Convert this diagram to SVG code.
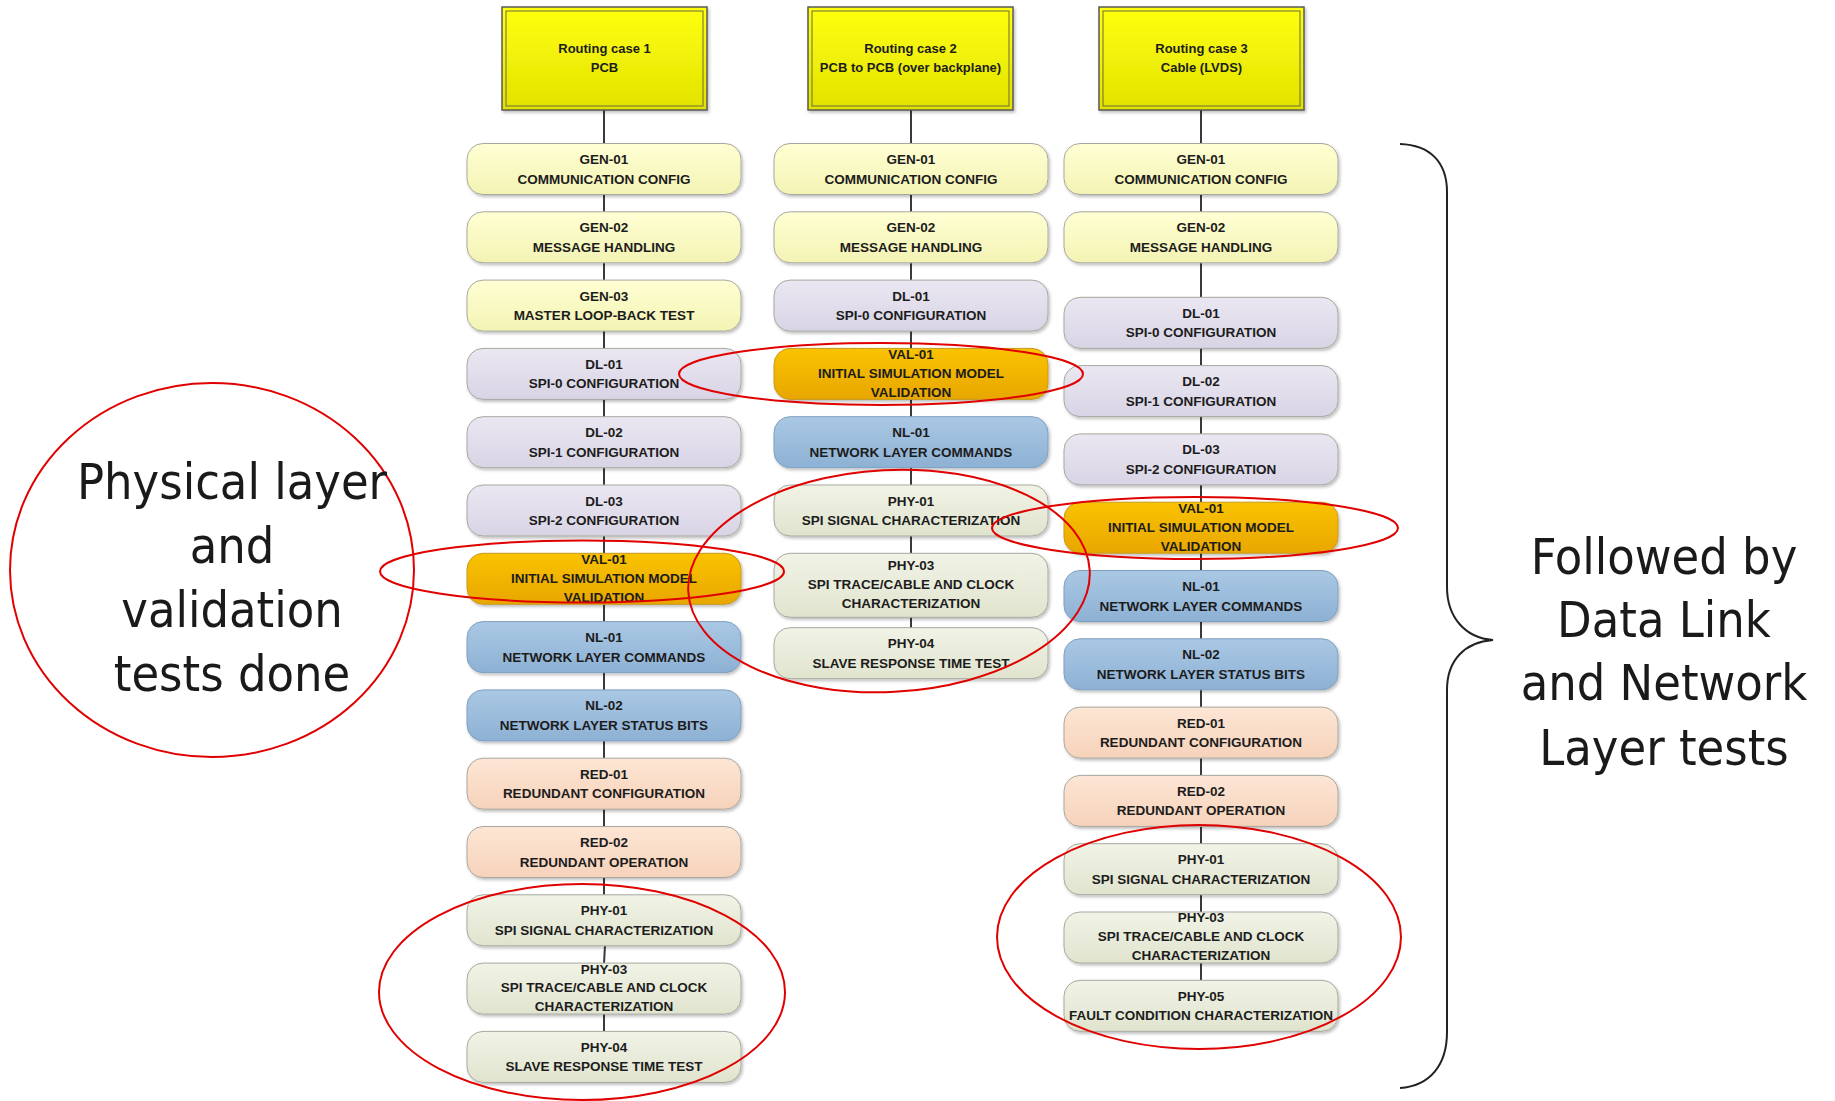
<svg xmlns="http://www.w3.org/2000/svg" width="1835" height="1101" viewBox="0 0 1835 1101">
<defs>
<linearGradient id="gGen" x1="0" y1="0" x2="0" y2="1"><stop offset="0" stop-color="#FFFFD4"/><stop offset="1" stop-color="#F3F3B4"/></linearGradient>
<linearGradient id="gDl" x1="0" y1="0" x2="0" y2="1"><stop offset="0" stop-color="#EAE7F2"/><stop offset="1" stop-color="#D9D4E5"/></linearGradient>
<linearGradient id="gVal" x1="0" y1="0" x2="0" y2="1"><stop offset="0" stop-color="#FAC300"/><stop offset="1" stop-color="#E8A600"/></linearGradient>
<linearGradient id="gNl" x1="0" y1="0" x2="0" y2="1"><stop offset="0" stop-color="#AAC8E4"/><stop offset="1" stop-color="#8DB1D4"/></linearGradient>
<linearGradient id="gRed" x1="0" y1="0" x2="0" y2="1"><stop offset="0" stop-color="#FDE6D5"/><stop offset="1" stop-color="#F6D2BA"/></linearGradient>
<linearGradient id="gPhy" x1="0" y1="0" x2="0" y2="1"><stop offset="0" stop-color="#F1F3E6"/><stop offset="1" stop-color="#E0E4CE"/></linearGradient>
<linearGradient id="gRt" x1="0" y1="0" x2="0" y2="1"><stop offset="0" stop-color="#FFFF10"/><stop offset="1" stop-color="#E2E200"/></linearGradient>
<filter id="sh" x="-5%" y="-10%" width="115%" height="130%"><feDropShadow dx="1.5" dy="2" stdDeviation="1.5" flood-color="#000" flood-opacity="0.25"/></filter>
</defs>
<style>
.n{stroke:#A8A8A0;stroke-width:1;filter:url(#sh)}
.gen{fill:url(#gGen)}.dl{fill:url(#gDl)}.val{fill:url(#gVal);stroke:#C99A20}.nl{fill:url(#gNl);stroke:#7F9FBF}.red{fill:url(#gRed)}.phy{fill:url(#gPhy)}
.t{font-family:"Liberation Sans",Arial,sans-serif;font-weight:bold;font-size:13.5px;fill:#1c1c1c;text-anchor:middle}
.rt{font-family:"Liberation Sans",Arial,sans-serif;font-weight:bold;font-size:13px;fill:#1c1c1c;text-anchor:middle}
.rbo{fill:url(#gRt);stroke:#5a5a5a;stroke-width:1.5;filter:url(#sh)}
.rbi{fill:none;stroke:#6a6a40;stroke-width:1}
.c line{stroke:#3a3a3a;stroke-width:2}
.e{fill:none;stroke:#E00000;stroke-width:2}
.big{font-family:"DejaVu Sans Condensed","DejaVu Sans",sans-serif;font-stretch:condensed;font-size:50px;fill:#1a1a1a;text-anchor:middle}
</style>
<rect width="1835" height="1101" fill="#fff"/>

<g id="connectors" class="c">
<line x1="604" y1="110" x2="604" y2="144"/><line x1="604" y1="194" x2="604" y2="212"/><line x1="604" y1="262" x2="604" y2="280"/><line x1="604" y1="331" x2="604" y2="348"/><line x1="604" y1="399" x2="604" y2="417"/><line x1="604" y1="467" x2="604" y2="485"/><line x1="604" y1="536" x2="604" y2="553"/><line x1="604" y1="604" x2="604" y2="622"/><line x1="604" y1="672" x2="604" y2="690"/><line x1="604" y1="741" x2="604" y2="758"/><line x1="604" y1="809" x2="604" y2="826"/><line x1="604" y1="877" x2="604" y2="895"/><line x1="605" y1="946" x2="604" y2="963"/><line x1="604" y1="1014" x2="604" y2="1031"/>
<line x1="911" y1="110" x2="911" y2="144"/><line x1="911" y1="194" x2="911" y2="212"/><line x1="911" y1="262" x2="911" y2="280"/><line x1="911" y1="331" x2="911" y2="348"/><line x1="911" y1="399" x2="911" y2="417"/><line x1="911" y1="467" x2="911" y2="485"/><line x1="911" y1="536" x2="911" y2="553"/><line x1="911" y1="617" x2="911" y2="628"/>
<line x1="1201" y1="110" x2="1201" y2="144"/><line x1="1201" y1="194" x2="1201" y2="212"/><line x1="1201" y1="262" x2="1201" y2="297"/><line x1="1201" y1="348" x2="1201" y2="366"/><line x1="1201" y1="416" x2="1201" y2="434"/><line x1="1201" y1="485" x2="1201" y2="502"/><line x1="1201" y1="553" x2="1201" y2="571"/><line x1="1201" y1="621" x2="1201" y2="639"/><line x1="1201" y1="689" x2="1201" y2="707"/><line x1="1201" y1="758" x2="1201" y2="775"/><line x1="1201" y1="826" x2="1201" y2="844"/><line x1="1201" y1="894" x2="1201" y2="912"/><line x1="1201" y1="963" x2="1201" y2="980"/>
</g>

<!-- Routing boxes -->
<g id="rc1"><rect class="rbo" x="502" y="7" width="205" height="103"/><rect class="rbi" x="506" y="11" width="197" height="95"/><text class="rt" x="604.5" y="53">Routing case 1</text><text class="rt" x="604.5" y="71.5">PCB</text></g>
<g id="rc2"><rect class="rbo" x="808" y="7" width="205" height="103"/><rect class="rbi" x="812" y="11" width="197" height="95"/><text class="rt" x="910.5" y="53">Routing case 2</text><text class="rt" x="910.5" y="71.5">PCB to PCB (over backplane)</text></g>
<g id="rc3"><rect class="rbo" x="1099" y="7" width="205" height="103"/><rect class="rbi" x="1103" y="11" width="197" height="95"/><text class="rt" x="1201.5" y="53">Routing case 3</text><text class="rt" x="1201.5" y="71.5">Cable (LVDS)</text></g>

<!-- Column 1 -->
<g id="c1-gen01"><rect class="n gen" x="467" y="143.5" width="274" height="51" rx="16"/><text class="t" x="604" y="164">GEN-01</text><text class="t" x="604" y="183.5">COMMUNICATION CONFIG</text></g>
<g id="c1-gen02"><rect class="n gen" x="467" y="211.8" width="274" height="51" rx="16"/><text class="t" x="604" y="232.3">GEN-02</text><text class="t" x="604" y="251.8">MESSAGE HANDLING</text></g>
<g id="c1-gen03"><rect class="n gen" x="467" y="280.1" width="274" height="51" rx="16"/><text class="t" x="604" y="300.6">GEN-03</text><text class="t" x="604" y="320.1">MASTER LOOP-BACK TEST</text></g>
<g id="c1-dl01"><rect class="n dl" x="467" y="348.4" width="274" height="51" rx="16"/><text class="t" x="604" y="368.9">DL-01</text><text class="t" x="604" y="388.4">SPI-0 CONFIGURATION</text></g>
<g id="c1-dl02"><rect class="n dl" x="467" y="416.7" width="274" height="51" rx="16"/><text class="t" x="604" y="437.2">DL-02</text><text class="t" x="604" y="456.7">SPI-1 CONFIGURATION</text></g>
<g id="c1-dl03"><rect class="n dl" x="467" y="485" width="274" height="51" rx="16"/><text class="t" x="604" y="505.5">DL-03</text><text class="t" x="604" y="525">SPI-2 CONFIGURATION</text></g>
<g id="c1-val01"><rect class="n val" x="467" y="553.3" width="274" height="51" rx="16"/><text class="t" x="604" y="563.8">VAL-01</text><text class="t" x="604" y="582.8">INITIAL SIMULATION MODEL</text><text class="t" x="604" y="601.8">VALIDATION</text></g>
<g id="c1-nl01"><rect class="n nl" x="467" y="621.6" width="274" height="51" rx="16"/><text class="t" x="604" y="642.1">NL-01</text><text class="t" x="604" y="661.6">NETWORK LAYER COMMANDS</text></g>
<g id="c1-nl02"><rect class="n nl" x="467" y="689.9" width="274" height="51" rx="16"/><text class="t" x="604" y="710.4">NL-02</text><text class="t" x="604" y="729.9">NETWORK LAYER STATUS BITS</text></g>
<g id="c1-red01"><rect class="n red" x="467" y="758.2" width="274" height="51" rx="16"/><text class="t" x="604" y="778.7">RED-01</text><text class="t" x="604" y="798.2">REDUNDANT CONFIGURATION</text></g>
<g id="c1-red02"><rect class="n red" x="467" y="826.5" width="274" height="51" rx="16"/><text class="t" x="604" y="847">RED-02</text><text class="t" x="604" y="866.5">REDUNDANT OPERATION</text></g>
<g id="c1-phy01"><rect class="n phy" x="467" y="894.8" width="274" height="51" rx="16"/><text class="t" x="604" y="915.3">PHY-01</text><text class="t" x="604" y="934.8">SPI SIGNAL CHARACTERIZATION</text></g>
<g id="c1-phy03"><rect class="n phy" x="467" y="963.1" width="274" height="51" rx="16"/><text class="t" x="604" y="973.6">PHY-03</text><text class="t" x="604" y="992.1">SPI TRACE/CABLE AND CLOCK</text><text class="t" x="604" y="1011.1">CHARACTERIZATION</text></g>
<g id="c1-phy04"><rect class="n phy" x="467" y="1031.4" width="274" height="51" rx="16"/><text class="t" x="604" y="1051.9">PHY-04</text><text class="t" x="604" y="1071.4">SLAVE RESPONSE TIME TEST</text></g>

<!-- Column 2 -->
<g id="c2-gen01"><rect class="n gen" x="774" y="143.5" width="274" height="51" rx="16"/><text class="t" x="911" y="164">GEN-01</text><text class="t" x="911" y="183.5">COMMUNICATION CONFIG</text></g>
<g id="c2-gen02"><rect class="n gen" x="774" y="211.8" width="274" height="51" rx="16"/><text class="t" x="911" y="232.3">GEN-02</text><text class="t" x="911" y="251.8">MESSAGE HANDLING</text></g>
<g id="c2-dl01"><rect class="n dl" x="774" y="280.1" width="274" height="51" rx="16"/><text class="t" x="911" y="300.6">DL-01</text><text class="t" x="911" y="320.1">SPI-0 CONFIGURATION</text></g>
<g id="c2-val01"><rect class="n val" x="774" y="348.4" width="274" height="51" rx="16"/><text class="t" x="911" y="358.9">VAL-01</text><text class="t" x="911" y="377.9">INITIAL SIMULATION MODEL</text><text class="t" x="911" y="396.9">VALIDATION</text></g>
<g id="c2-nl01"><rect class="n nl" x="774" y="416.7" width="274" height="51" rx="16"/><text class="t" x="911" y="437.2">NL-01</text><text class="t" x="911" y="456.7">NETWORK LAYER COMMANDS</text></g>
<g id="c2-phy01"><rect class="n phy" x="774" y="485" width="274" height="51" rx="16"/><text class="t" x="911" y="505.5">PHY-01</text><text class="t" x="911" y="525">SPI SIGNAL CHARACTERIZATION</text></g>
<g id="c2-phy03"><rect class="n phy" x="774" y="553.3" width="274" height="64" rx="16"/><text class="t" x="911" y="570.3">PHY-03</text><text class="t" x="911" y="589.3">SPI TRACE/CABLE AND CLOCK</text><text class="t" x="911" y="608.3">CHARACTERIZATION</text></g>
<g id="c2-phy04"><rect class="n phy" x="774" y="627.7" width="274" height="51" rx="16"/><text class="t" x="911" y="648.2">PHY-04</text><text class="t" x="911" y="667.7">SLAVE RESPONSE TIME TEST</text></g>

<!-- Column 3 -->
<g id="c3-gen01"><rect class="n gen" x="1064" y="143.5" width="274" height="51" rx="16"/><text class="t" x="1201" y="164">GEN-01</text><text class="t" x="1201" y="183.5">COMMUNICATION CONFIG</text></g>
<g id="c3-gen02"><rect class="n gen" x="1064" y="211.8" width="274" height="51" rx="16"/><text class="t" x="1201" y="232.3">GEN-02</text><text class="t" x="1201" y="251.8">MESSAGE HANDLING</text></g>
<g id="c3-dl01"><rect class="n dl" x="1064" y="297.3" width="274" height="51" rx="16"/><text class="t" x="1201" y="317.8">DL-01</text><text class="t" x="1201" y="337.3">SPI-0 CONFIGURATION</text></g>
<g id="c3-dl02"><rect class="n dl" x="1064" y="365.6" width="274" height="51" rx="16"/><text class="t" x="1201" y="386.1">DL-02</text><text class="t" x="1201" y="405.6">SPI-1 CONFIGURATION</text></g>
<g id="c3-dl03"><rect class="n dl" x="1064" y="433.9" width="274" height="51" rx="16"/><text class="t" x="1201" y="454.4">DL-03</text><text class="t" x="1201" y="473.9">SPI-2 CONFIGURATION</text></g>
<g id="c3-val01"><rect class="n val" x="1064" y="502.2" width="274" height="51" rx="16"/><text class="t" x="1201" y="512.7">VAL-01</text><text class="t" x="1201" y="531.7">INITIAL SIMULATION MODEL</text><text class="t" x="1201" y="550.7">VALIDATION</text></g>
<g id="c3-nl01"><rect class="n nl" x="1064" y="570.5" width="274" height="51" rx="16"/><text class="t" x="1201" y="591">NL-01</text><text class="t" x="1201" y="610.5">NETWORK LAYER COMMANDS</text></g>
<g id="c3-nl02"><rect class="n nl" x="1064" y="638.8" width="274" height="51" rx="16"/><text class="t" x="1201" y="659.3">NL-02</text><text class="t" x="1201" y="678.8">NETWORK LAYER STATUS BITS</text></g>
<g id="c3-red01"><rect class="n red" x="1064" y="707.1" width="274" height="51" rx="16"/><text class="t" x="1201" y="727.6">RED-01</text><text class="t" x="1201" y="747.1">REDUNDANT CONFIGURATION</text></g>
<g id="c3-red02"><rect class="n red" x="1064" y="775.4" width="274" height="51" rx="16"/><text class="t" x="1201" y="795.9">RED-02</text><text class="t" x="1201" y="815.4">REDUNDANT OPERATION</text></g>
<g id="c3-phy01"><rect class="n phy" x="1064" y="843.7" width="274" height="51" rx="16"/><text class="t" x="1201" y="864.2">PHY-01</text><text class="t" x="1201" y="883.7">SPI SIGNAL CHARACTERIZATION</text></g>
<g id="c3-phy03"><rect class="n phy" x="1064" y="912" width="274" height="51" rx="16"/><text class="t" x="1201" y="922">PHY-03</text><text class="t" x="1201" y="941">SPI TRACE/CABLE AND CLOCK</text><text class="t" x="1201" y="960">CHARACTERIZATION</text></g>
<g id="c3-phy05"><rect class="n phy" x="1064" y="980.3" width="274" height="51" rx="16"/><text class="t" x="1201" y="1000.8">PHY-05</text><text class="t" x="1201" y="1020.3">FAULT CONDITION CHARACTERIZATION</text></g>

<!-- Annotations -->
<g id="annotations">
<ellipse class="e" cx="212" cy="570" rx="202" ry="187"/>
<ellipse class="e" cx="582" cy="571.5" rx="202" ry="31"/>
<ellipse class="e" cx="881" cy="374" rx="202" ry="31"/>
<ellipse class="e" cx="1195" cy="528" rx="203" ry="31"/>
<ellipse class="e" cx="889" cy="581" rx="201" ry="111" transform="rotate(-3 889 581)"/>
<ellipse class="e" cx="582" cy="992" rx="203" ry="108"/>
<ellipse class="e" cx="1199" cy="937" rx="202" ry="112"/>
<path d="M1400 144 C1430 145 1447 162 1447 192 L1447 587 C1447 617 1465 638 1493 640 C1465 642 1447 660 1447 690 L1447 1032 C1447 1065 1430 1086 1400 1088" fill="none" stroke="#222" stroke-width="2"/>
<text class="big" x="232" y="499">Physical layer</text>
<text class="big" x="232" y="563">and</text>
<text class="big" x="232" y="627">validation</text>
<text class="big" x="232" y="691">tests done</text>
<text class="big" x="1664" y="574">Followed by</text>
<text class="big" x="1664" y="637">Data Link</text>
<text class="big" x="1664" y="700">and Network</text>
<text class="big" x="1664" y="765">Layer tests</text>
</g>
</svg>
